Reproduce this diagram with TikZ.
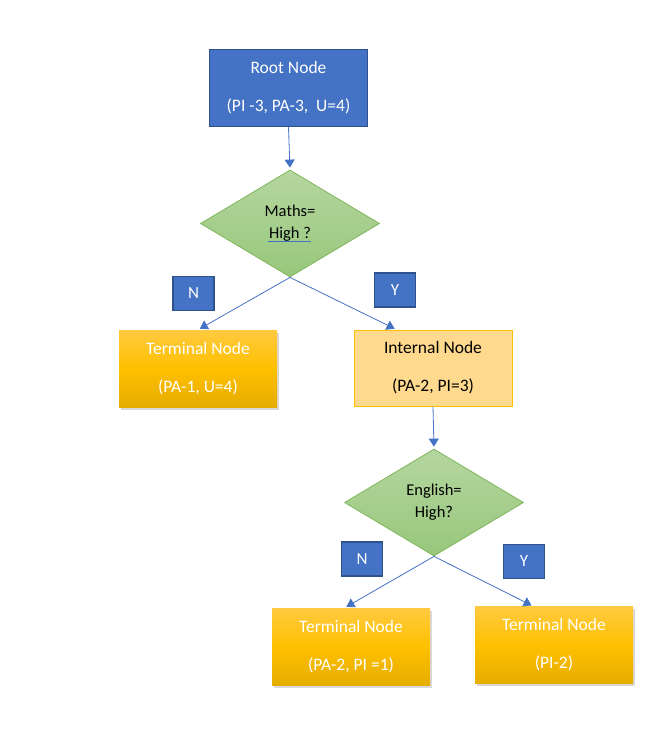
\documentclass[tikz,border=0pt]{standalone}
\usepackage{fontspec}
\setmainfont{Carlito}
\usetikzlibrary{shapes.geometric,arrows.meta,shadows,calc}
\definecolor{accblue}{HTML}{4472C4}
\definecolor{darkblue}{HTML}{2F528F}
\definecolor{gtop}{HTML}{B5D6A0}
\definecolor{gbot}{HTML}{97C77B}
\definecolor{gline}{HTML}{7FB65A}
\definecolor{otop}{HTML}{FFCA40}
\definecolor{omid}{HTML}{FFC000}
\definecolor{obot}{HTML}{E5AD00}
\definecolor{ifill}{HTML}{FFD98E}
\definecolor{iline}{HTML}{FFC000}
\tikzset{
  boxtext/.style={font=\fontsize{17.5}{38}\selectfont, align=center},
  rootbox/.style={rectangle, draw=darkblue, line width=1.5pt, fill=accblue, text=white,
    minimum width=158pt, minimum height=77pt, inner sep=0pt, boxtext},
  decision/.style={diamond, draw=gline, line width=0.8pt, top color=gtop, bottom color=gbot,
    minimum width=179pt, minimum height=107pt, inner sep=0pt, aspect=1.7,
    font=\fontsize{16.5}{22}\selectfont, align=center, text=black},
  yesno/.style={rectangle, draw=darkblue, line width=1.5pt, fill=accblue, text=white,
    minimum width=41pt, minimum height=34pt, inner sep=0pt, font=\fontsize{17}{18}\selectfont},
  terminal/.style={rectangle, top color=otop, bottom color=obot, middle color=omid, text=white,
    minimum width=158pt, minimum height=77pt, inner sep=0pt, boxtext,
    drop shadow={shadow xshift=1.5pt, shadow yshift=-2.5pt, opacity=0.3}},
  internal/.style={rectangle, draw=iline, line width=0.8pt, fill=ifill, text=black,
    minimum width=158pt, minimum height=76pt, inner sep=0pt, boxtext},
  conn/.style={draw=accblue, line width=0.8pt, -{Triangle[length=8pt,width=10pt]}, shorten >=2pt},
  squig/.style={draw=accblue, line width=0.6pt}
}
\begin{document}
\begin{tikzpicture}[x=1pt,y=-1pt]
\useasboundingbox (0,0) rectangle (661,730);
\node[rootbox] (root) at (288.5,88) {Root Node\\(PI -3, PA-3,\ \ U=4)};
\node[decision] (d1) at (290,223.5) {Maths=\\High ?};
\node[yesno] (n1) at (193.5,293.5) {N};
\node[yesno] (y1) at (395,290) {Y};
\node[terminal] (t1) at (198,368.5) {Terminal Node\\(PA-1, U=4)};
\node[internal] (i1) at (433,368) {Internal Node\\(PA-2, PI=3)};
\node[decision] (d2) at (434,502.5) {English=\\High?};
\node[yesno] (n2) at (362,559) {N};
\node[yesno] (y2) at (524,561.5) {Y};
\node[terminal] (t2) at (351,646.5) {Terminal Node\\(PA-2, PI =1)};
\node[terminal] (t3) at (554,645) {Terminal Node\\(PI-2)};
% proofing underlines
\coordinate (u1a) at (297,115.5); \coordinate (u1b) at (330,115.5);
\coordinate (u2a) at (297,117.5); \coordinate (u2b) at (330,117.5);
\coordinate (u3a) at (268,241.5); \coordinate (u3b) at (311,241.5);
\draw[squig] (u1a) -- (u1b);
\draw[squig] (u2a) -- (u2b);
\draw[squig] (u3a) -- (u3b);
% connectors
\draw[conn] (root.south) -- (d1.north);
\draw[conn] (d1.south) -- (t1.north);
\draw[conn] (d1.south) -- ($(i1.north west)!0.27!(i1.north east)$);
\draw[conn] (i1.south) -- (d2.north);
\draw[conn] (d2.south) -- ($(t2.north west)!0.46!(t2.north east)$);
\draw[conn] (d2.south) -- ($(t3.north west)!0.37!(t3.north east)$);
\end{tikzpicture}
\end{document}
